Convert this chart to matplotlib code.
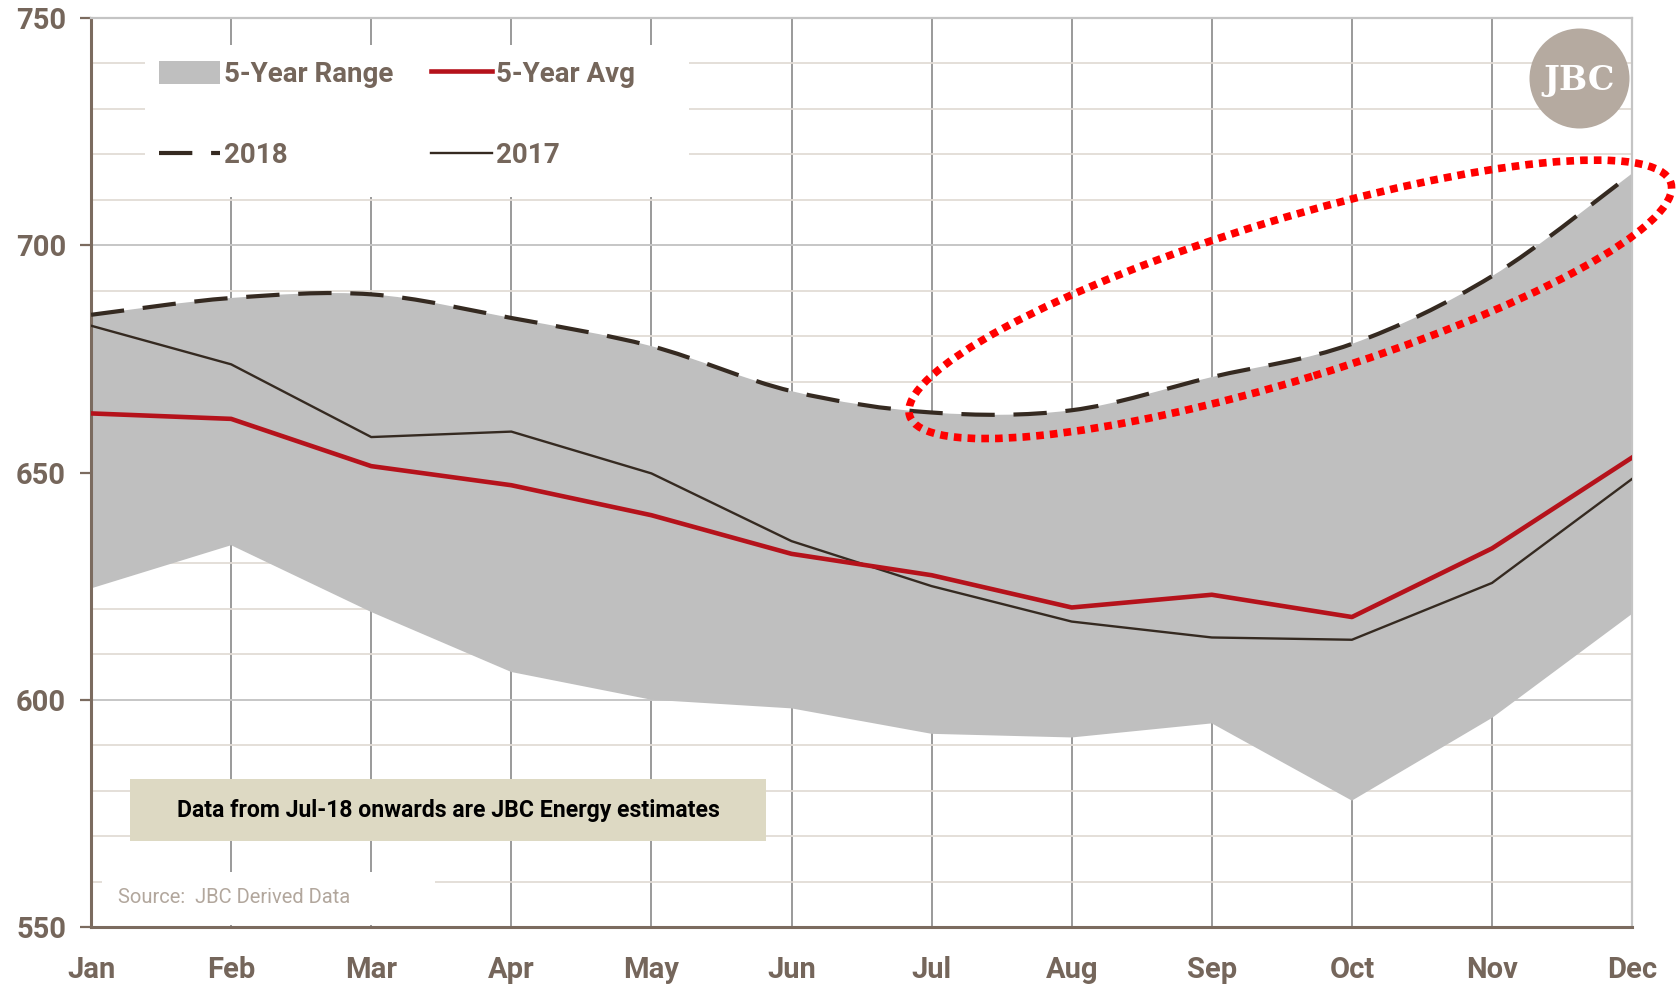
import numpy as np
import matplotlib
matplotlib.use("Agg")
import matplotlib.pyplot as plt
import matplotlib.transforms as mtrans
from matplotlib.path import Path
from matplotlib.patches import PathPatch, Patch, Ellipse, Rectangle
from matplotlib.lines import Line2D

plt.rcParams['font.family'] = ['Roboto', 'DejaVu Sans']

months = ['Jan', 'Feb', 'Mar', 'Apr', 'May', 'Jun', 'Jul', 'Aug', 'Sep', 'Oct', 'Nov', 'Dec']
range_high = [684.7, 688.4, 689.2, 684.0, 677.8, 667.9, 663.2, 663.7, 671.0, 678.3, 693.2, 715.8]
range_low = [624.5, 634.0, 619.3, 606.1, 600.0, 598.1, 592.5, 591.7, 594.8, 577.8, 596.0, 618.9]
avg_5yr = [663.0, 661.8, 651.4, 647.2, 640.6, 632.1, 627.4, 620.3, 623.1, 618.2, 633.3, 653.3]
y2018 = [684.7, 688.4, 689.2, 684.0, 677.8, 667.9, 663.2, 663.7, 671.0, 678.3, 693.2, 715.8]
y2017 = [682.3, 673.8, 657.8, 659.0, 649.8, 634.9, 625.0, 617.2, 613.7, 613.2, 625.7, 648.6]

TXT = '#75665b'
SPINE = '#7b6b5f'
RED = '#b5121b'
DARK = '#352a21'


def smooth_path(x, y):
    # excel style smoothed line, bezier segments through the points
    verts = [(x[0], y[0])]
    codes = [Path.MOVETO]
    n = len(x)
    for i in range(n - 1):
        xp, yp = (x[i - 1], y[i - 1]) if i > 0 else (x[i], y[i])
        xn, yn = (x[i + 2], y[i + 2]) if i + 2 < n else (x[i + 1], y[i + 1])
        c1 = (x[i] + (x[i + 1] - xp) / 6, y[i] + (y[i + 1] - yp) / 6)
        c2 = (x[i + 1] - (xn - x[i]) / 6, y[i + 1] - (yn - y[i]) / 6)
        verts += [c1, c2, (x[i + 1], y[i + 1])]
        codes += [Path.CURVE4] * 3
    return verts, codes


x = np.arange(len(months))

fig = plt.figure(figsize=(16.8, 9.85), dpi=100)
ax = fig.add_axes([0.0542, 0.0589, 0.9173, 0.9228])
ax.set_xlim(0, 11)
ax.set_ylim(550, 750)

# 5-year range band (smoothed top, straight bottom)
v, c = smooth_path(x, range_high)
v += [(xi, yi) for xi, yi in zip(x[::-1], range_low[::-1])]
c += [Path.LINETO] * len(x)
v.append(v[0])
c.append(Path.CLOSEPOLY)
ax.add_patch(PathPatch(Path(v, c), fc='#bfbfbf', ec='none', zorder=2))

ax.plot(x, y2017, color=DARK, lw=1.7, zorder=3)
ax.plot(x, avg_5yr, color=RED, lw=3.3, zorder=4)

v, c = smooth_path(x, y2018)
ax.add_patch(PathPatch(Path(v, c), fill=False, ec=DARK, lw=3.0,
                       ls=(0, (8, 4.5)), zorder=5))

# red dotted highlight
trans = fig.dpi_scale_trans + mtrans.ScaledTranslation(8.56, 688.1, ax.transData)
ax.add_patch(Ellipse((0, 0), 7.96, 1.6, angle=17, transform=trans, fill=False,
                     ec='#ff0000', lw=5.5, ls=(0, (1, 0.8)), clip_on=False, zorder=7))

# grid
ax.set_xticks(x)
ax.set_xticklabels(months)
ax.set_yticks([550, 600, 650, 700, 750])
ax.set_yticks(np.arange(550, 751, 10), minor=True)
ax.set_axisbelow(True)
ax.xaxis.grid(True, color='#9a9a9a', lw=1.4)
ax.yaxis.grid(True, which='minor', color='#e2dcd6', lw=1.3)
ax.yaxis.grid(True, which='major', color='#c6c6c6', lw=1.4)

for s in ['left', 'bottom']:
    ax.spines[s].set_color(SPINE)
    ax.spines[s].set_linewidth(2.2)
for s in ['top', 'right']:
    ax.spines[s].set_color('#c4c4c4')
    ax.spines[s].set_linewidth(1.6)

ax.tick_params(axis='y', which='major', length=8, width=1.6, color=SPINE,
               labelsize=21, labelcolor=TXT, pad=10)
ax.tick_params(axis='y', which='minor', length=0)
ax.tick_params(axis='x', length=0, labelsize=21, labelcolor=TXT, pad=21)
for t in ax.get_xticklabels() + ax.get_yticklabels():
    t.set_fontweight('bold')

# legend on a white panel
ax.add_patch(Rectangle((0.035, 0.803), 0.353, 0.167, transform=ax.transAxes,
                       fc='white', ec='none', zorder=9))
handles = [Patch(fc='#bfbfbf', ec='none'),
           Line2D([], [], color=DARK, lw=3.0, ls=(0, (8, 4.5))),
           Line2D([], [], color=RED, lw=3.3),
           Line2D([], [], color=DARK, lw=1.7)]
labels = ['5-Year Range', '2018', '5-Year Avg', '2017']
leg = ax.legend(handles, labels, ncol=2, loc='center left', bbox_to_anchor=(0.0439, 0.8933),
                prop={'weight': 'bold', 'size': 20}, labelcolor=TXT, frameon=False,
                borderpad=0, borderaxespad=0, labelspacing=1.95, handlelength=2.2,
                handletextpad=0.15, columnspacing=1.35, handleheight=0.9)
leg.set_zorder(10)

# estimate note
ax.add_patch(Rectangle((0.0253, 0.0946), 0.4127, 0.0682, transform=ax.transAxes,
                       fc='#ddd9c3', ec='none', zorder=8))
ax.text(0.2317, 0.1285, 'Data from Jul-18 onwards are JBC Energy estimates',
        transform=ax.transAxes, ha='center', va='center', fontsize=16.6,
        fontweight='bold', color='black', zorder=9)

# source
ax.add_patch(Rectangle((0.0071, 0.002), 0.216, 0.058, transform=ax.transAxes,
                       fc='white', ec='none', zorder=8))
ax.text(0.0175, 0.032, 'Source:  JBC Derived Data', transform=ax.transAxes,
        ha='left', va='center', fontsize=14.5, color='#b2a79d', zorder=9)

# logo
ax.plot([10.62], [736.8], 'o', ms=72, color='#b5aaa0', mec='none', clip_on=False, zorder=9)
ax.text(10.62, 736.3, 'JBC', fontsize=24, color='white', family='DejaVu Serif',
        fontweight='bold', ha='center', va='center', zorder=10)

fig.savefig('out.png', dpi=100)
